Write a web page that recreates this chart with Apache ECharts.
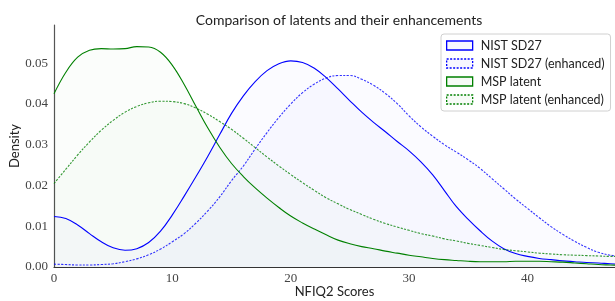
<!DOCTYPE html>
<html>
<head>
<meta charset="utf-8">
<script src="https://cdn.jsdelivr.net/npm/echarts@6/dist/echarts.min.js"></script>
<style>
html,body{margin:0;padding:0;background:#fff;}
#chart{width:615px;height:301px;}
</style>
</head>
<body>
<div id="chart"></div>
<script>
// NFIQ2 score grid (x values)
var scores = [0,1,2,3,4,5,6,7,8,9,10,11,12,13,14,15,16,17,18,19,20,21,22,23,24,25,26,27,28,29,30,31,32,33,34,35,36,37,38,39,40,41,42,43,44,45,46,47,48];

var nistSD27 = [0.0124,0.0119,0.0103,0.0082,0.0062,0.0047,0.0041,0.0045,0.0060,0.0088,0.0128,0.0174,0.0222,0.0272,0.0325,0.0377,0.0420,0.0455,0.0482,0.0499,0.0506,0.0502,0.0488,0.0465,0.0437,0.0408,0.0380,0.0355,0.0332,0.0308,0.0285,0.0258,0.0226,0.0187,0.0148,0.0117,0.0089,0.0064,0.0045,0.0033,0.0026,0.0021,0.0018,0.0015,0.0013,0.0011,0.0010,0.0008,0.0007];

var nistSD27Enh = [0.0007,0.0006,0.0005,0.0005,0.0006,0.0008,0.0013,0.0020,0.0030,0.0044,0.0062,0.0082,0.0108,0.0138,0.0172,0.0212,0.0248,0.0290,0.0330,0.0367,0.0400,0.0428,0.0449,0.0464,0.0470,0.0470,0.0461,0.0446,0.0426,0.0401,0.0371,0.0344,0.0321,0.0300,0.0282,0.0263,0.0242,0.0217,0.0192,0.0167,0.0144,0.0121,0.0099,0.0080,0.0063,0.0048,0.0036,0.0029,0.0026];

var mspLatent = [0.0425,0.0478,0.0515,0.0532,0.0536,0.0535,0.0536,0.0541,0.0540,0.0527,0.0495,0.0448,0.0394,0.0341,0.0294,0.0254,0.0222,0.0194,0.0169,0.0146,0.0125,0.0108,0.0093,0.0079,0.0066,0.0057,0.0050,0.0045,0.0039,0.0034,0.0029,0.0025,0.0021,0.0018,0.0016,0.0014,0.0013,0.0013,0.0013,0.0014,0.0014,0.0014,0.0013,0.0012,0.0010,0.0008,0.0006,0.0005,0.0004];

var mspLatentEnh = [0.0205,0.0240,0.0275,0.0307,0.0336,0.0360,0.0380,0.0394,0.0403,0.0407,0.0406,0.0401,0.0390,0.0375,0.0357,0.0338,0.0316,0.0293,0.0270,0.0248,0.0227,0.0207,0.0188,0.0170,0.0155,0.0141,0.0129,0.0117,0.0107,0.0098,0.0090,0.0082,0.0076,0.0069,0.0064,0.0058,0.0053,0.0048,0.0043,0.0040,0.0037,0.0034,0.0032,0.0030,0.0029,0.0028,0.0027,0.0026,0.0026];

var seriesNames = ['NIST SD27','NIST SD27 (enhanced)','MSP latent','MSP latent (enhanced)'];
var xTicks = [0,10,20,30,40];
var yTicks = [0,0.01,0.02,0.03,0.04,0.05];

function pairs(vals){ return scores.map(function(x,i){ return [x, vals[i]]; }); }

var BLUE = '#0000ff', GREEN = '#008000';
var dashPattern = [2.2,1.4];

function mk(name, vals, color, dashed){
  return {
    name: name, type: 'line', data: pairs(vals), smooth: 0.4,
    showSymbol: false, symbol: 'none', clip: true,
    lineStyle: {color: color, width: 1.1, type: dashed ? dashPattern : 'solid', opacity: dashed ? 0.8 : 1},
    itemStyle: {color: color},
    areaStyle: {color: color, opacity: 0.014},
    emphasis: {disabled: true},
    silent: true
  };
}

var chart = echarts.init(document.getElementById('chart'), null, {renderer: 'canvas'});
var serifFont = '"Liberation Serif", "DejaVu Serif", serif';
var sansFont = 'Lato, "DejaVu Sans", sans-serif';

chart.setOption({
  animation: false,
  backgroundColor: '#ffffff',
  title: {
    text: 'Comparison of latents and their enhancements',
    left: 334, textAlign: 'center', top: 8,
    textStyle: {fontFamily: sansFont, fontSize: 14, fontWeight: 'normal', color: '#222'}
  },
  legend: {
    left: 441, top: 34, orient: 'vertical',
    padding: [5, 6, 5, 5],
    itemWidth: 26, itemHeight: 9, itemGap: 5,
    icon: 'rect',
    backgroundColor: '#ffffff',
    borderColor: '#d0d0d0', borderWidth: 1, borderRadius: 3,
    textStyle: {fontFamily: sansFont, fontSize: 12.5, color: '#222', padding: [0,0,0,3]},
    data: [
      {name: seriesNames[0], itemStyle: {color: 'rgba(0,0,255,0.03)', borderColor: BLUE, borderWidth: 1.3, borderType: 'solid'}},
      {name: seriesNames[1], itemStyle: {color: 'rgba(0,0,255,0.03)', borderColor: BLUE, borderWidth: 1.3, borderType: [2,1.5]}},
      {name: seriesNames[2], itemStyle: {color: 'rgba(0,128,0,0.03)', borderColor: GREEN, borderWidth: 1.3, borderType: 'solid'}},
      {name: seriesNames[3], itemStyle: {color: 'rgba(0,128,0,0.03)', borderColor: GREEN, borderWidth: 1.3, borderType: [2,1.5]}}
    ],
    selectedMode: false
  },
  grid: {left: 54, right: 0, top: 25, bottom: 34, containLabel: false, outerBoundsMode: 'none'},
  xAxis: {
    type: 'value', min: 0, max: 47.4, interval: 10,
    name: 'NFIQ2 Scores', nameLocation: 'middle', nameGap: 18, nameMoveOverlap: false,
    nameTextStyle: {fontFamily: sansFont, fontSize: 13, color: '#222'},
    axisLine: {show: true, lineStyle: {color: '#333', width: 1.2}},
    axisTick: {show: false},
    splitLine: {show: false},
    axisLabel: {
      fontFamily: serifFont, fontSize: 13, color: '#444', margin: 5,
      showMaxLabel: false,
      formatter: function(v){ return xTicks.indexOf(v) >= 0 ? String(v) : ''; }
    }
  },
  yAxis: {
    type: 'value', min: 0, max: 0.0594, interval: 0.01,
    name: 'Density', nameLocation: 'middle', nameGap: 33, nameRotate: 90, nameMoveOverlap: false,
    nameTextStyle: {fontFamily: sansFont, fontSize: 13, color: '#222'},
    axisLine: {show: true, lineStyle: {color: '#555', width: 1.2}},
    axisTick: {show: false},
    splitLine: {show: false},
    axisLabel: {
      fontFamily: serifFont, fontSize: 13, color: '#444', margin: 6,
      showMaxLabel: false,
      formatter: function(v){
        for (var i = 0; i < yTicks.length; i++) { if (Math.abs(yTicks[i]-v) < 1e-9) return yTicks[i].toFixed(2); }
        return '';
      }
    }
  },
  series: [
    mk(seriesNames[0], nistSD27, BLUE, false),
    mk(seriesNames[1], nistSD27Enh, BLUE, true),
    mk(seriesNames[2], mspLatent, GREEN, false),
    mk(seriesNames[3], mspLatentEnh, GREEN, true)
  ]
});
</script>
</body>
</html>
